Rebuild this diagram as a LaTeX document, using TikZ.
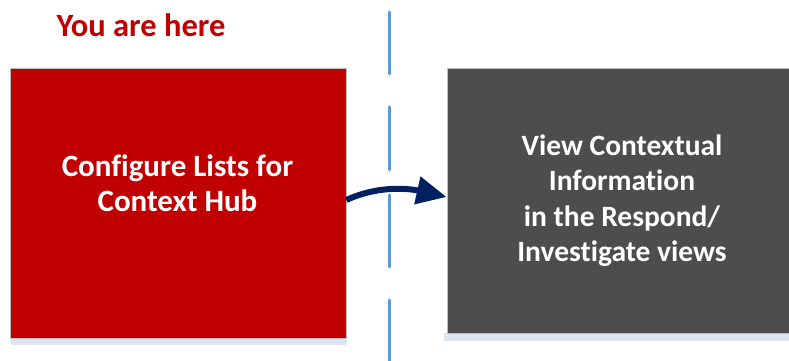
\documentclass[tikz,border=0pt]{standalone}
\usepackage{fontspec}
\setmainfont[Ligatures=NoCommon]{Carlito}
\usetikzlibrary{arrows.meta}
\definecolor{hubred}{HTML}{C00000}
\definecolor{hubgrey}{HTML}{4D4D4D}
\definecolor{hubnavy}{HTML}{002060}
\definecolor{hubblue}{HTML}{5B9BD5}
\definecolor{hubshadow}{HTML}{DCE6F2}
\definecolor{hubedge}{HTML}{BFBFBF}
\begin{document}
\begin{tikzpicture}[x=1pt,y=1pt,
  stepbox/.style={draw=hubedge, line width=0.8pt, minimum width=#1, inner sep=0pt},
  boxtext/.style={text=white, align=center, anchor=base},
  divider/.style={hubblue, line width=3pt, line cap=round}]
\useasboundingbox (0,0) rectangle (789,361);
% shadows
\fill[hubshadow] (11,16) rectangle (347,23);
\fill[hubshadow] (444,20) rectangle (800,28);
% boxes
\node[stepbox=336pt, fill=hubred, minimum height=270pt] (red) at (178,158) {};
\node[stepbox=350pt, fill=hubgrey, minimum height=265pt] (grey) at (622,160.5) {};
% divider
\draw[divider] (389,349) -- (389,287);
\draw[divider] (389,254) -- (389,191);
\draw[divider] (389,166) -- (389,94);
\draw[divider] (389,61) -- (389,-5);
% texts
\node[text=hubred, font=\bfseries\fontsize{32.5}{36}\selectfont, anchor=base] (here) at (141,324) {You are here};
\node[boxtext, font=\bfseries\fontsize{31}{35}\selectfont] (redtext) at (177.5,149) {Configure Lists for\\Context Hub};
\node[boxtext, font=\bfseries\fontsize{29.5}{35.5}\selectfont] (greytext) at (622,99) {View Contextual\\Information\\ in the Respond/\\Investigate views};
% arrow
\coordinate (astart) at ([yshift=3pt]red.east);
\coordinate (aend) at ([yshift=3.5pt]grey.west);
\draw[hubnavy, line width=6pt, -{Triangle[length=30pt,width=27pt]}]
  (astart) .. controls +(30,14) and +(-40,9) .. (aend);
\end{tikzpicture}
\end{document}
